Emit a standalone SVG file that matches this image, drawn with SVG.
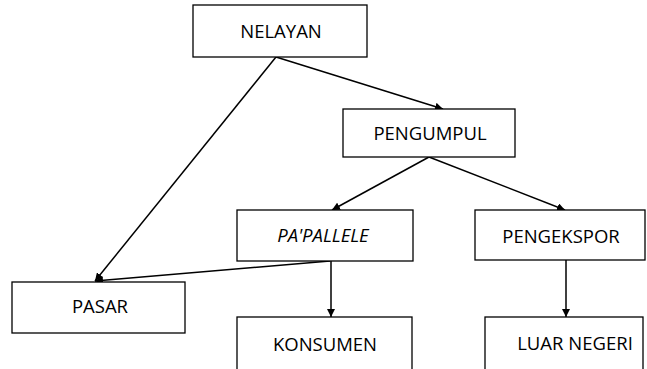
<svg xmlns="http://www.w3.org/2000/svg" width="647" height="369" viewBox="0 0 647 369">
<defs>
<marker id="ah" viewBox="0 0 10 10" refX="10" refY="5" markerWidth="8" markerHeight="8" markerUnits="userSpaceOnUse" orient="auto">
<path d="M0,0 L10,5 L0,10 z" fill="#000"/>
</marker>
<style>
.box{fill:#fff;stroke:#000;stroke-width:1.3}
.t{font-family:"Open Sans","Liberation Sans",sans-serif;font-size:18.5px;fill:#000;text-anchor:middle}
.c{stroke:#000;stroke-width:1.5;fill:none;marker-end:url(#ah)}
</style>
</defs>
<rect width="647" height="369" fill="#fff"/>
<g id="connectors">
<line class="c" x1="276" y1="57" x2="443" y2="109"/>
<line class="c" x1="276" y1="57" x2="95" y2="281"/>
<line class="c" x1="429" y1="157" x2="332" y2="210"/>
<line class="c" x1="429" y1="157" x2="565" y2="210"/>
<line class="c" x1="330" y1="261" x2="95" y2="281"/>
<line class="c" x1="331" y1="261" x2="331" y2="317"/>
<line class="c" x1="566" y1="260" x2="566" y2="317"/>
</g>
<g id="nelayan"><rect class="box" x="193" y="5" width="174" height="52"/><text class="t" x="281" y="38">NELAYAN</text></g>
<g id="pengumpul"><rect class="box" x="343" y="109" width="172" height="48"/><text class="t" x="430" y="140">PENGUMPUL</text></g>
<g id="papallele"><rect class="box" x="237" y="210" width="176" height="51"/><text class="t" x="323" y="242" font-style="italic">PA'PALLELE</text></g>
<g id="pengekspor"><rect class="box" x="475" y="210" width="170" height="50"/><text class="t" x="561" y="243">PENGEKSPOR</text></g>
<g id="pasar"><rect class="box" x="12" y="282" width="173" height="51"/><text class="t" x="100" y="313">PASAR</text></g>
<g id="konsumen"><rect class="box" x="237" y="317" width="175" height="60"/><text class="t" x="325" y="351">KONSUMEN</text></g>
<g id="luarnegeri"><rect class="box" x="485" y="317" width="158" height="60"/><text class="t" x="575" y="350">LUAR NEGERI</text></g>
</svg>
